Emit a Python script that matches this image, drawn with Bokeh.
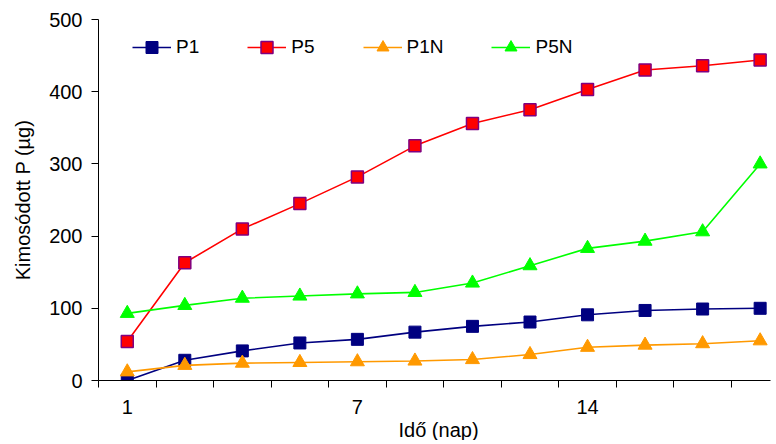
from bokeh.plotting import figure
from bokeh.models import Range1d, FixedTicker, Legend, LegendItem, Title
from bokeh.embed import file_html
from bokeh.resources import INLINE

# --- data ---
x_pos = [1, 2, 3, 4, 5, 6, 7, 8, 9, 10, 11, 12]
tick_labels = {1: "1", 5: "7", 9: "14"}
p1 = [0, 28, 41, 52, 57, 67, 75, 81, 91, 97, 99, 100]
p5 = [54, 163, 210, 245, 282, 325, 356, 375, 403, 430, 436, 444]
p1n = [12, 21, 24, 25, 26, 27, 29, 36, 46, 49, 51, 55]
p5n = [93, 104, 114, 117, 120, 122, 135, 159, 183, 193, 206, 300]
y_ticks = [0, 100, 200, 300, 400, 500]

FONT = "Liberation Sans"

p = figure(width=772, height=440, output_backend="svg", toolbar_location=None,
           x_range=Range1d(0.5, 12.18), y_range=Range1d(0, 500),
           min_border_left=98, min_border_right=2, min_border_top=19, min_border_bottom=59)
p.outline_line_color = None
p.xgrid.grid_line_color = None
p.ygrid.grid_line_color = None
p.background_fill_color = "white"

# y axis
p.yaxis.ticker = FixedTicker(ticks=y_ticks)
p.yaxis.axis_label = "Kimosódott P (µg)"
p.yaxis.axis_label_text_font = FONT
p.yaxis.axis_label_text_font_style = "normal"
p.yaxis.axis_label_text_font_size = "20px"
p.yaxis.axis_label_text_color = "black"
p.yaxis.axis_label_standoff = 12
p.yaxis.major_label_text_font = FONT
p.yaxis.major_label_text_font_size = "20px"
p.yaxis.major_label_text_color = "black"
p.yaxis.major_tick_out = 7
p.yaxis.major_tick_in = 0
p.yaxis.minor_tick_out = 0
p.yaxis.minor_tick_in = 0
p.yaxis.major_label_standoff = 9
p.yaxis.axis_line_color = "black"
p.yaxis.major_tick_line_color = "black"

# x axis
bounds = [i + 0.5 for i in range(0, 12)]
p.xaxis.ticker = FixedTicker(ticks=list(tick_labels.keys()), minor_ticks=bounds)
p.xaxis.major_label_overrides = tick_labels
p.xaxis.major_tick_out = 0
p.xaxis.major_tick_in = 0
p.xaxis.minor_tick_out = 7
p.xaxis.minor_tick_in = 0
p.xaxis.minor_tick_line_color = "black"
p.xaxis.major_label_standoff = 12
p.xaxis.major_label_text_font = FONT
p.xaxis.major_label_text_font_size = "20px"
p.xaxis.major_label_text_color = "black"
p.xaxis.axis_line_color = "black"

p.add_layout(Title(text="Idő (nap)", align="left", offset=300, text_font=FONT,
                   text_font_size="20px", text_font_style="normal", text_color="black",
                   standoff=0), "below")

lw = 1.6
r1l = p.line(x_pos, p1, line_color="#000080", line_width=lw)
r1m = p.scatter(x_pos, p1, marker="square", size=12, fill_color="#000080", line_color="#000080")
r2l = p.line(x_pos, p5, line_color="#FF0000", line_width=lw)
r2m = p.scatter(x_pos, p5, marker="square", size=12, fill_color="#FF0000", line_color="#800080", line_width=1.5)
r3l = p.line(x_pos, p1n, line_color="#FF9900", line_width=lw)
r3m = p.scatter(x_pos, p1n, marker="triangle", size=14, fill_color="#FF9900", line_color="#FF9900")
r4l = p.line(x_pos, p5n, line_color="#00FF00", line_width=lw)
r4m = p.scatter(x_pos, p5n, marker="triangle", size=14, fill_color="#00FF00", line_color="#00FF00")

legend = Legend(items=[
    LegendItem(label="P1", renderers=[r1l, r1m]),
    LegendItem(label="P5", renderers=[r2l, r2m]),
    LegendItem(label="P1N", renderers=[r3l, r3m]),
    LegendItem(label="P5N", renderers=[r4l, r4m]),
], orientation="horizontal", location=(34, 318))
legend.border_line_color = None
legend.background_fill_alpha = 0
legend.padding = 0
legend.margin = 0
legend.spacing = 48
legend.label_standoff = 5
legend.glyph_width = 39
legend.glyph_height = 30
legend.label_text_font = FONT
legend.label_text_font_size = "19px"
legend.label_text_color = "black"
p.add_layout(legend, "center")

open("out.html", "w").write(file_html(p, INLINE))
